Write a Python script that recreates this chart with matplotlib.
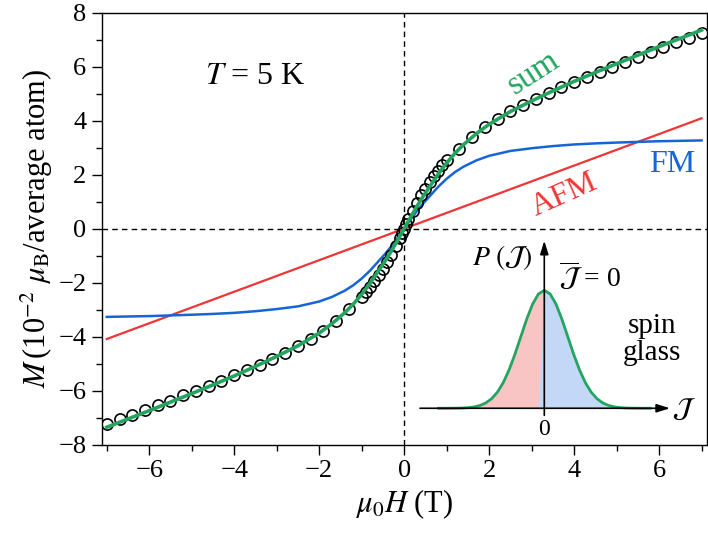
import matplotlib
matplotlib.use('Agg')
import matplotlib.pyplot as plt
from matplotlib.ticker import MultipleLocator
import numpy as np

plt.rcParams['font.family'] = ['Liberation Serif', 'DejaVu Serif']
plt.rcParams['mathtext.fontset'] = 'stix'

# fitted components (field in T, M in 10^-2 muB/atom)
fit_field = [-7.0, -6.0, -5.0, -4.5, -4.0, -3.5, -3.0, -2.5, -2.0, -1.7, -1.4, -1.2, -1.0,
             -0.8, -0.6, -0.45, -0.3, -0.15, 0.0, 0.15, 0.3, 0.45, 0.6, 0.8, 1.0, 1.2, 1.4,
             1.7, 2.0, 2.5, 3.0, 3.5, 4.0, 4.5, 5.0, 6.0, 7.0]
fm = [-3.27, -3.24, -3.19, -3.16, -3.12, -3.06, -2.98, -2.88, -2.70, -2.53, -2.30, -2.10, -1.85,
      -1.55, -1.20, -0.94, -0.65, -0.33, 0.0, 0.33, 0.65, 0.94, 1.20, 1.55, 1.85, 2.10, 2.30,
      2.53, 2.70, 2.88, 2.98, 3.06, 3.12, 3.16, 3.19, 3.24, 3.27]
afm_field = [-7.0, 7.0]
afm = [-4.09, 4.09]

# measured points
meas_field = [-7.0, -6.7, -6.4, -6.1, -5.8, -5.5, -5.2, -4.9, -4.6, -4.3, -4.0, -3.7, -3.4,
              -3.1, -2.8, -2.5, -2.2, -1.9, -1.6, -1.3, -1.0, -0.9, -0.8, -0.7, -0.6, -0.5,
              -0.4, -0.3, -0.2, -0.1, -0.05, 0.0, 0.05, 0.1, 0.2, 0.3, 0.4, 0.5, 0.6, 0.7,
              0.8, 0.9, 1.0, 1.3, 1.6, 1.9, 2.2, 2.5, 2.8, 3.1, 3.4, 3.7, 4.0, 4.3, 4.6,
              4.9, 5.2, 5.5, 5.8, 6.1, 6.4, 6.7, 7.0]
meas_m = [-7.24, -7.07, -6.90, -6.73, -6.55, -6.37, -6.18, -6.00, -5.82, -5.63, -5.44, -5.24,
          -5.04, -4.82, -4.60, -4.36, -4.08, -3.78, -3.41, -2.97, -2.53, -2.35, -2.15, -1.94,
          -1.72, -1.48, -1.23, -0.96, -0.66, -0.34, -0.17, 0.0, 0.17, 0.34, 0.66, 0.96,
          1.23, 1.48, 1.72, 1.94, 2.15, 2.35, 2.53, 2.97, 3.41, 3.78, 4.08, 4.36, 4.60,
          4.82, 5.04, 5.24, 5.44, 5.63, 5.82, 6.00, 6.18, 6.37, 6.55, 6.73, 6.90, 7.07, 7.24]

# schematic distribution P(J) for the inset
j_vals = [-4.5, -4.25, -4.0, -3.75, -3.5, -3.25, -3.0, -2.75, -2.5, -2.25, -2.0, -1.75, -1.5,
          -1.25, -1.0, -0.75, -0.5, -0.25, 0.0, 0.25, 0.5, 0.75, 1.0, 1.25, 1.5, 1.75, 2.0,
          2.25, 2.5, 2.75, 3.0, 3.25, 3.5, 3.75, 4.0, 4.25, 4.5]
p_vals = [0.0, 0.0001, 0.0003, 0.0009, 0.0022, 0.0051, 0.0111, 0.0228, 0.0439, 0.0796, 0.1353,
          0.2163, 0.3247, 0.4578, 0.6065, 0.7548, 0.8825, 0.969, 1.0, 0.969, 0.8825, 0.7548,
          0.6065, 0.4578, 0.3247, 0.2163, 0.1353, 0.0796, 0.0439, 0.0228, 0.0111, 0.0051,
          0.0022, 0.0009, 0.0003, 0.0001, 0.0]

red = '#f03535'
blue = '#1565d8'
green = '#23a55f'

fig = plt.figure(figsize=(7.08, 5.33), dpi=100)
ax = fig.add_axes([0.1436, 0.166, 0.8545, 0.810])

ax.axhline(0, color='k', ls=(0, (4, 3)), lw=1.0, zorder=1)
ax.axvline(0, color='k', ls=(0, (4, 3)), lw=1.0, zorder=1)

ax.plot(afm_field, afm, color=red, lw=1.6, zorder=2)
ax.plot(fit_field, fm, color=blue, lw=1.8, zorder=2)
ax.plot(meas_field, meas_m, 'o', mfc='none', mec='k', ms=8, mew=1.2, zorder=3)
sum_m = np.array(fm) + np.interp(fit_field, afm_field, afm)
ax.plot(fit_field, sum_m, color=green, lw=2.6, zorder=4)

ax.set_xlim(-7.12, 7.12)
ax.set_ylim(-8, 8)
ax.xaxis.set_major_locator(MultipleLocator(2))
ax.xaxis.set_minor_locator(MultipleLocator(1))
ax.yaxis.set_major_locator(MultipleLocator(2))
ax.yaxis.set_minor_locator(MultipleLocator(1))
ax.tick_params(which='major', direction='out', length=7, width=1.0, labelsize=19,
               top=False, right=False, pad=4)
ax.tick_params(which='minor', direction='out', length=4, width=1.0, top=False, right=False)
for s in ax.spines.values():
    s.set_linewidth(1.0)

ax.set_xlabel(r'$\mu_0H$ (T)', fontsize=22, labelpad=4)
ax.set_ylabel(r'$M\,$(10$^{-2}$ $\mu_{\rm B}$/average atom)', fontsize=22, labelpad=2)

ax.text(-3.51, 5.63, r'$T$ = 5 K', fontsize=23, ha='center', va='center')
ax.text(3.05, 5.77, 'sum', color=green, fontsize=24, rotation=33, ha='center', va='center')
ax.text(6.32, 2.39, 'FM', color=blue, fontsize=23, ha='center', va='center')
ax.text(3.78, 1.25, 'AFM', color=red, fontsize=23, rotation=24, ha='center', va='center')

# inset sketch
ins = fig.add_axes([0.5791, 0.1745, 0.4096, 0.3846])
ins.set_xlim(-5.715, 6.626)
ins.set_ylim(-0.269, 1.469)
ins.axis('off')
jv = np.array(j_vals)
pv = np.array(p_vals)
ins.fill_between(jv, 0, pv, where=jv <= 0, color='#f9c4c4', lw=0, interpolate=True)
ins.fill_between(jv, 0, pv, where=jv >= 0, color='#c3d7f6', lw=0, interpolate=True)
ins.plot(jv, pv, color=green, lw=2.0)
ins.annotate('', xy=(5.35, 0), xytext=(-5.29, 0),
             arrowprops=dict(arrowstyle='-|>,head_length=0.8,head_width=0.25', color='k', lw=1.2,
                             shrinkA=0, shrinkB=0))
ins.annotate('', xy=(0, 1.42), xytext=(0, -0.06),
             arrowprops=dict(arrowstyle='-|>,head_length=0.8,head_width=0.25', color='k', lw=1.2,
                             shrinkA=0, shrinkB=0))
ins.text(-1.8, 1.28, r'$P\ (\mathcal{J})$', fontsize=20, ha='center', va='center')
ins.text(1.94, 1.12, r'$\overline{\mathcal{J}}$ = 0', fontsize=20, ha='center', va='center')
ins.text(4.58, 0.58, 'spin\nglass', fontsize=21, ha='center', va='center', linespacing=1.05)
ins.text(5.95, -0.02, r'$\mathcal{J}$', fontsize=20, ha='center', va='center')
ins.text(0, -0.18, '0', fontsize=17, ha='center', va='center')

fig.savefig('out.png', dpi=100)
